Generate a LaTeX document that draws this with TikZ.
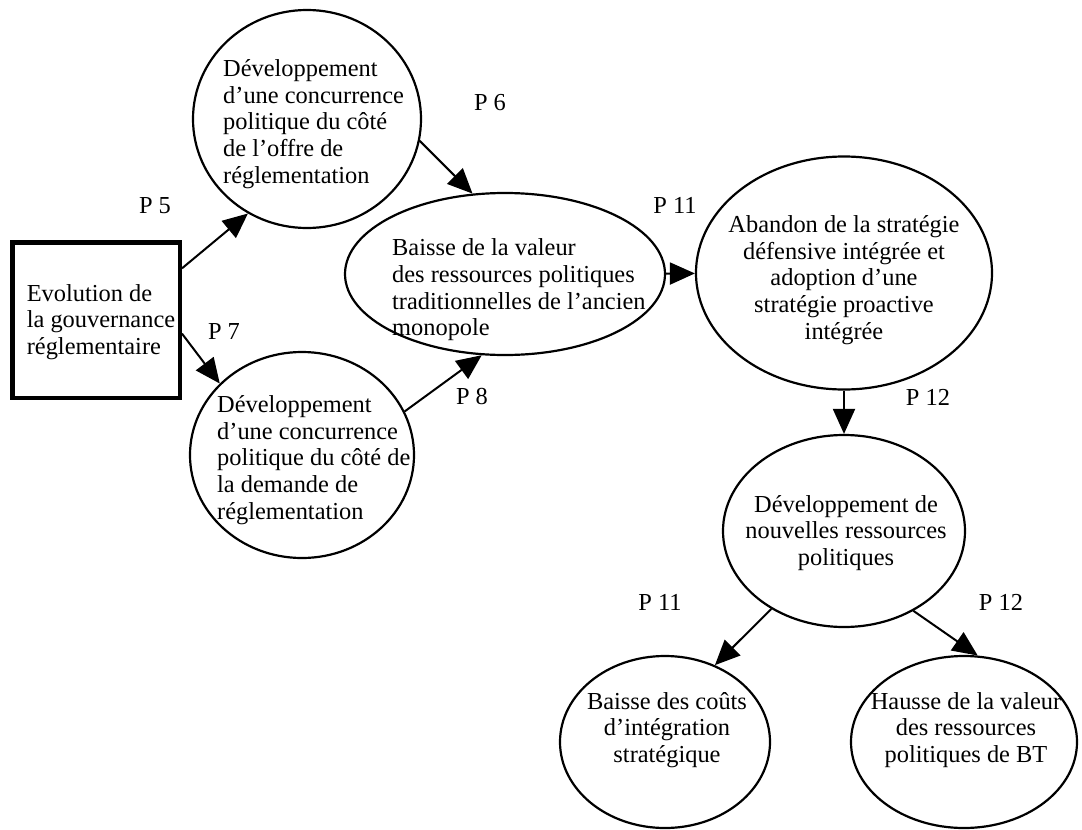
\documentclass[tikz,border=0pt]{standalone}
\usepackage{fontspec}
\setmainfont{Liberation Serif}
\usetikzlibrary{arrows.meta, shapes.geometric}

\tikzset{
  bulle/.style={draw, ellipse, line width=2.2pt, inner sep=0pt},
  texte/.style={font=\fontsize{24.4}{26.6}\selectfont, inner sep=0pt},
  fleche/.style={line width=2pt, -{Triangle[length=25pt,width=22pt]}},
}

\begin{document}
\begin{tikzpicture}[x=1pt, y=-1pt]
    \useasboundingbox (0,0) rectangle (1082,830);
    % Cadre de depart
    \node[draw, line width=4.5pt, minimum width=167.5pt, minimum height=155.5pt, inner sep=0pt] (gouv) at (96,320) {};
    \node[texte, align=left] (gouvtxt) at (101,322) {Evolution de\\la gouvernance\\réglementaire};
    % Bulles
    \node[bulle, minimum width=228pt, minimum height=218pt] (offre) at (307,119) {};
    \node[bulle, minimum width=224pt, minimum height=206pt] (demande) at (302,455) {};
    \node[bulle, minimum width=320pt, minimum height=162pt] (baisse) at (505,274) {};
    \node[bulle, minimum width=296pt, minimum height=233pt] (abandon) at (844,273) {};
    \node[bulle, minimum width=242pt, minimum height=192pt] (nouvelles) at (844,531) {};
    \node[bulle, minimum width=210pt, minimum height=172pt] (couts) at (665,742) {};
    \node[bulle, minimum width=226pt, minimum height=172pt] (hausse) at (964,742) {};
    % Textes des bulles
    \node[texte, align=left, anchor=west] (offretxt) at (223,124) {Développement\\d’une concurrence\\politique du côté\\de l’offre de\\réglementation};
    \node[texte, align=left, anchor=west] (demandetxt) at (217,460) {Développement\\d’une concurrence\\politique du côté de\\la demande de\\réglementation};
    \node[texte, align=left, anchor=west] (baissetxt) at (392,290) {Baisse de la valeur\\des ressources politiques\\traditionnelles de l’ancien\\monopole};
    \node[texte, align=center] (abandontxt) at (844,280) {Abandon de la stratégie\\défensive intégrée et\\adoption d’une\\stratégie proactive\\intégrée};
    \node[texte, align=center] (nouvellestxt) at (846,533) {Développement de\\nouvelles ressources\\politiques};
    \node[texte, align=center] (coutstxt) at (667,730) {Baisse des coûts\\d’intégration\\stratégique};
    \node[texte, align=center] (haussetxt) at (966,730) {Hausse de la valeur\\des ressources\\politiques de BT};
    % Fleches
    \draw[fleche] (gouv.31) -- (offre.238);
    \draw[fleche] (gouv.-9) -- (demande.139);
    \draw[fleche] (offre.-11) -- (baisse.112);
    \draw[fleche] (demande.23) -- (baisse.254);
    \draw[fleche] (baisse) -- (abandon);
    \draw[fleche] (abandon) -- (nouvelles);
    \draw[fleche] (nouvelles.227) -- (couts.57);
    \draw[fleche] (nouvelles.-49) -- (hausse.81);
    % Propositions
    \node[texte] (p5) at (155,206) {P 5};
    \node[texte] (p6) at (490,103) {P 6};
    \node[texte] (p7) at (224,332) {P 7};
    \node[texte] (p8) at (472,397) {P 8};
    \node[texte] (p11a) at (675,205) {P 11};
    \node[texte] (p12a) at (928,397) {P 12};
    \node[texte] (p11b) at (660,602) {P 11};
    \node[texte] (p12b) at (1001,602) {P 12};
\end{tikzpicture}
\end{document}
